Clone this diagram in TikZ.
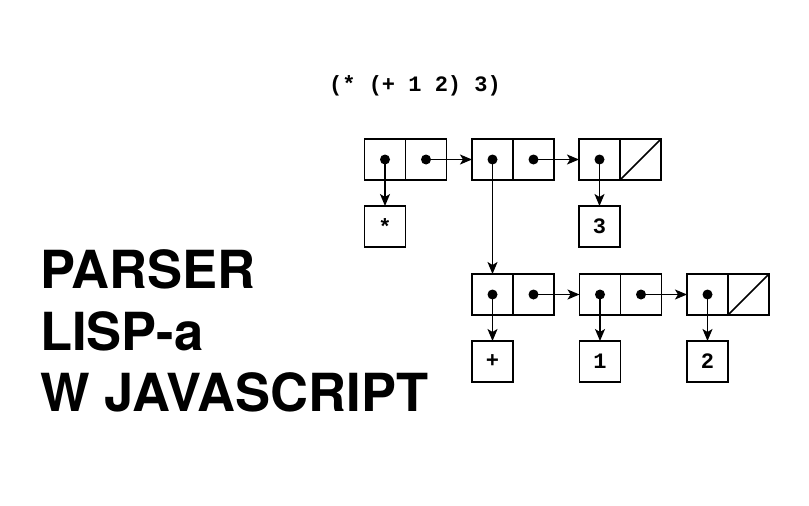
\documentclass[tikz,border=0pt]{standalone}
\usepackage{fontspec}
\setmainfont{TeX Gyre Heros}
\newfontfamily\monofont{Liberation Mono}
\usetikzlibrary{arrows.meta}
\begin{document}
\begin{tikzpicture}[x=1pt,y=-1pt,
  cell/.style={draw, line width=1.5pt, minimum width=41pt, minimum height=41pt, inner sep=0pt, outer sep=0pt},
  atom/.style={cell, font=\monofont\bfseries\fontsize{22}{22}\selectfont},
  arr/.style={line width=1.5pt, -{Stealth[length=12pt,width=10pt,inset=3pt]}},
  dot/.style={fill=black},
  nil/.style={line width=1.5pt},
  big/.style={anchor=base west, inner sep=0pt, font=\bfseries\fontsize{52.5}{52.5}\selectfont},
  code/.style={anchor=base, inner sep=0pt, font=\monofont\bfseries\fontsize{22}{22}\selectfont}
]
\useasboundingbox (0,0) rectangle (809,506);

% title
\node[code] (title) at (415,91.7) {(* (+ 1 2) 3)};

% big text
\node[big] (l1) at (40,288.3) {PARSER};
\node[big] (l2) at (40,350) {LISP-a};
\node[big] (l3) at (40,411.7) {W JAVASCRIPT};

% top row cells
\node[cell] (a1) at (385,159.5) {};
\node[cell] (a2) at (426,159.5) {};
\node[cell] (b1) at (492.5,159.5) {};
\node[cell] (b2) at (533.5,159.5) {};
\node[cell] (c1) at (599.5,159.5) {};
\node[cell] (c2) at (640.5,159.5) {};

% bottom row cells
\node[cell] (d1) at (492.5,294.5) {};
\node[cell] (d2) at (533.5,294.5) {};
\node[cell] (e1) at (600,294.5) {};
\node[cell] (e2) at (641,294.5) {};
\node[cell] (f1) at (707.5,294.5) {};
\node[cell] (f2) at (748.5,294.5) {};

% atoms
\node[atom] (star) at (385,226.5) {*};
\node[atom] (three) at (599.5,226.5) {3};
\node[atom] (plus) at (492.5,361.5) {+};
\node[atom] (one) at (600,361.5) {1};
\node[atom] (two) at (707.5,361.5) {2};

% nil cells
\draw[nil] (c2.south west) -- (c2.north east);
\draw[nil] (f2.south west) -- (f2.north east);

% arrows
\draw[arr] (a1.center) -- (star.north);
\draw[arr] (a2.center) -- (b1.west);
\draw[arr] (b1.center) -- (d1.north);
\draw[arr] (b2.center) -- (c1.west);
\draw[arr] (c1.center) -- (three.north);
\draw[arr] (d1.center) -- (plus.north);
\draw[arr] (d2.center) -- (e1.west);
\draw[arr] (e1.center) -- (one.north);
\draw[arr] (e2.center) -- (f1.west);
\draw[arr] (f1.center) -- (two.north);

% dots
\foreach \n in {a1,a2,b1,b2,c1,d1,d2,e1,e2,f1}
  \fill[dot] (\n.center) circle (5pt);
\end{tikzpicture}
\end{document}
